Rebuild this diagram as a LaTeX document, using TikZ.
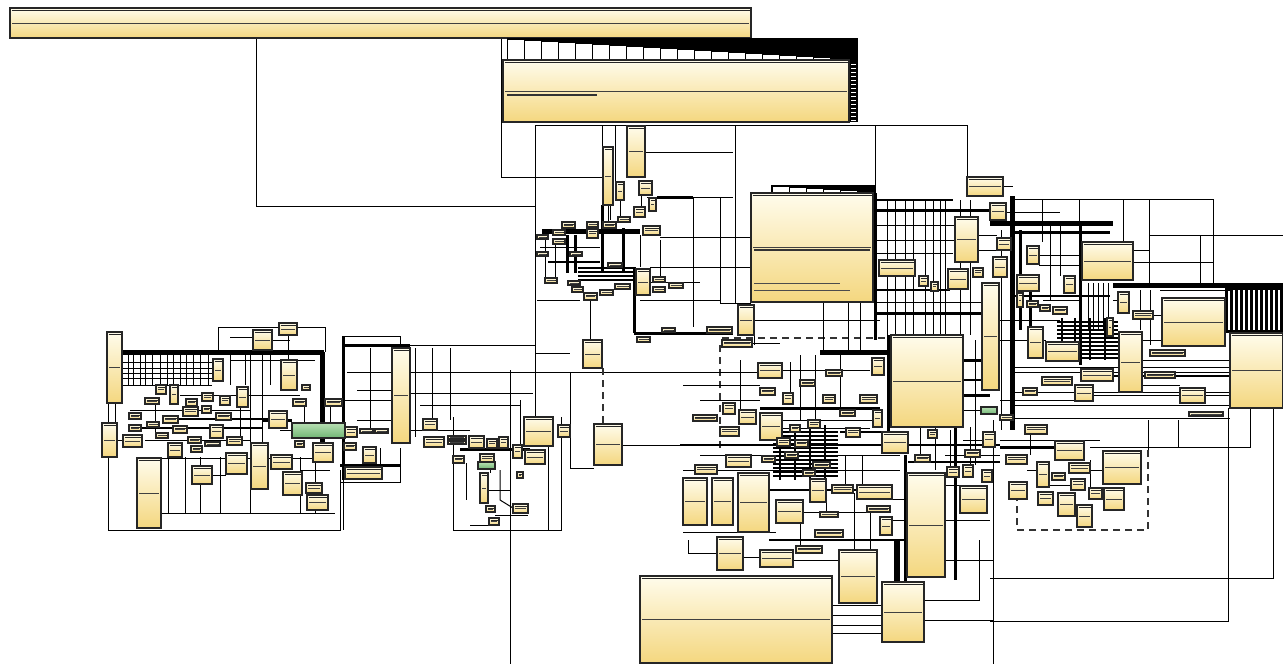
\documentclass[tikz,border=0pt]{standalone}
\usetikzlibrary{backgrounds}
\definecolor{ytop}{HTML}{FFFCEC}
\definecolor{ybot}{HTML}{F4D77F}
\definecolor{gtop}{HTML}{B9E0B4}
\definecolor{gbot}{HTML}{6FB673}
\definecolor{bord}{HTML}{262626}
\tikzset{
  cls/.style={draw=bord,line width=1.4pt,top color=ytop,bottom color=ybot,inner sep=0pt,outer sep=0pt,
    path picture={\draw[line width=.7pt,black!85] ([shift={(1.5pt,-2.8pt)}]path picture bounding box.north west) -- ([shift={(-1.5pt,-2.8pt)}]path picture bounding box.north east);
      \draw[line width=.7pt,black!75] ([xshift=2pt]path picture bounding box.west) -- ([xshift=-2pt]path picture bounding box.east);}},
  gcls/.style={draw=bord,line width=1.2pt,top color=gtop,bottom color=gbot,inner sep=0pt,outer sep=0pt},
  ln/.style={line width=1pt,black},
  bus/.style={line width=3pt,black},
  hbus/.style={line width=5pt,black},
  dsh/.style={line width=1.1pt,black!80,dash pattern=on 7pt off 5pt},
}
\newcommand\B[5]{\node[cls,anchor=north west,minimum width={(#4-#2)*1pt},minimum height={(#5-#3)*1pt}] (#1) at (#2,#3) {};}
\newcommand\Gb[5]{\node[gcls,anchor=north west,minimum width={(#4-#2)*1pt},minimum height={(#5-#3)*1pt}] (#1) at (#2,#3) {};}
\begin{document}
\begin{tikzpicture}[x=1pt,y=-1pt]
\useasboundingbox (0,0) rectangle (1283,664);
% ---------- top ----------
\B{A}{10}{8}{751}{38}
\fill[black] (507,38) rectangle (858,60);
\foreach \i in {0,...,18} {\draw[fill=white,line width=.8pt] ({507+17*\i},{39+\i}) rectangle ({524+17*\i},60);}
\fill[black] (849,60) rectangle (858,122);
\foreach \j in {64,68,...,120} {\draw[white,line width=1pt] (851,\j) -- (856,\j);}
\B{B}{503}{60}{849}{122}
\draw[line width=1.2pt,black!80] (507,95) -- (597,95);
% band above D
\fill[black] (771,185) rectangle (875,193);
\foreach \i in {0,...,5} {\draw[fill=white,line width=.6pt] ({772+17*\i},{186+\i}) rectangle ({789+17*\i},193);}
% ---------- big boxes ----------
\B{D}{751}{193}{873}{302}
\draw[line width=1.2pt,black!80] (754,250) -- (870,250);
\draw[line width=1pt,black!70] (754,283) -- (840,283) (754,290) -- (850,290);
\B{E}{891}{335}{963}{427}
\B{F}{640}{576}{832}{663}
\B{G}{882}{582}{924}{642}
\B{H}{839}{550}{877}{603}
\B{I}{907}{473}{945}{577}
% ---------- center top ----------
\B{c1}{627}{126}{645}{177}
\B{c2}{603}{147}{613}{205}
\B{c3}{616}{182}{624}{200}
\B{c4}{639}{181}{652}{195}
\B{c5}{634}{207}{645}{217}
\B{c6}{649}{198}{656}{211}
\B{c7}{562}{222}{575}{228}
\B{c8}{587}{222}{598}{227}
\B{c9}{603}{222}{616}{228}
\B{c10}{618}{217}{630}{222}
\B{c12}{643}{226}{660}{235}
\B{c13}{587}{229}{598}{238}
\B{c14}{537}{235}{548}{239}
\B{c15}{553}{230}{565}{235}
\B{c16}{553}{239}{565}{244}
\B{c17}{537}{252}{548}{256}
\B{c18}{570}{252}{582}{256}
\B{c19}{636}{269}{650}{295}
\B{c20}{608}{263}{622}{267}
\B{c21}{545}{278}{557}{283}
\B{c22}{572}{287}{583}{292}
\B{c23}{584}{293}{597}{300}
\B{c24}{600}{290}{613}{295}
\B{c25}{615}{284}{630}{289}
\B{c26}{653}{277}{665}{282}
\B{c27}{653}{287}{665}{292}
\B{c28}{669}{283}{683}{288}
\B{c29}{662}{328}{675}{332}
\B{c30}{707}{327}{732}{333}
\B{c31}{637}{337}{650}{342}
\B{c32}{738}{305}{754}{335}
\B{c33}{583}{340}{602}{368}
\B{c34}{568}{281}{580}{285}
% ---------- right ----------
\B{R1}{967}{177}{1003}{196}
\B{R2}{990}{203}{1006}{220}
\B{R3}{997}{238}{1011}{250}
\B{R4}{1027}{246}{1039}{264}
\B{R5}{993}{257}{1007}{277}
\B{R6}{1017}{275}{1039}{291}
\B{R7}{1064}{276}{1075}{293}
\B{R8}{1082}{242}{1133}{280}
\B{R9}{1017}{293}{1023}{307}
\B{R10}{1027}{301}{1038}{307}
\B{R11}{1040}{305}{1050}{311}
\B{R12}{1053}{307}{1067}{314}
\B{R13}{1118}{292}{1129}{313}
\B{R14}{1133}{311}{1153}{319}
\B{R15}{1107}{318}{1113}{336}
\B{R16}{1162}{298}{1225}{346}
\B{R17}{1230}{333}{1283}{408}
\B{R18}{1119}{332}{1142}{392}
\B{R19}{1150}{350}{1185}{356}
\B{R20}{1028}{327}{1043}{358}
\B{R21}{1046}{342}{1079}{361}
\B{R22}{1081}{369}{1113}{381}
\B{R23}{1042}{377}{1072}{385}
\B{R24}{1075}{385}{1093}{401}
\B{R25}{1023}{388}{1037}{395}
\B{R26}{1145}{372}{1175}{378}
\B{R27}{1180}{388}{1205}{403}
\B{R28}{1189}{412}{1223}{416}
\B{R29}{982}{283}{999}{390}
\B{R30}{1025}{425}{1047}{434}
\B{R31}{1000}{415}{1013}{420}
\B{R32}{955}{217}{978}{262}
\B{R33}{948}{269}{968}{289}
\B{R34}{879}{260}{915}{276}
\B{R35}{919}{276}{928}{286}
\B{R36}{931}{282}{938}{291}
\B{R37}{973}{268}{983}{277}
\Gb{g3}{981}{407}{997}{414}
% ---------- lower right ----------
\B{LR1}{1055}{441}{1084}{460}
\B{LR2}{1103}{451}{1141}{484}
\B{LR3}{1104}{488}{1124}{510}
\B{LR4}{1077}{505}{1092}{527}
\B{LR5}{1058}{493}{1075}{516}
\B{LR6}{1038}{492}{1053}{505}
\B{LR7}{1037}{462}{1049}{487}
\B{LR8}{1009}{482}{1027}{499}
\B{LR9}{1006}{455}{1027}{464}
\B{LR10}{1052}{473}{1065}{480}
\B{LR11}{1069}{463}{1090}{473}
\B{LR12}{1071}{479}{1085}{490}
\B{LR13}{1089}{488}{1102}{499}
% ---------- lower center ----------
\B{m1}{872}{358}{884}{375}
\B{m2}{758}{363}{782}{378}
\B{m3}{760}{388}{775}{395}
\B{m4}{783}{393}{793}{404}
\B{m5}{823}{395}{835}{403}
\B{m6}{860}{395}{877}{403}
\B{m7}{873}{410}{882}{427}
\B{m8}{723}{403}{735}{414}
\B{m9}{739}{410}{756}{424}
\B{m10}{760}{413}{782}{440}
\B{m11}{720}{427}{739}{436}
\B{m12}{693}{415}{717}{421}
\B{m13}{882}{432}{908}{453}
\B{m14}{726}{455}{751}{467}
\B{m15}{695}{465}{717}{474}
\B{m16}{683}{478}{707}{525}
\B{m17}{712}{478}{733}{525}
\B{m18}{738}{473}{769}{532}
\B{m19}{776}{500}{803}{523}
\B{m20}{810}{479}{826}{502}
\B{m21}{832}{485}{853}{493}
\B{m22}{857}{485}{892}{499}
\B{m23}{867}{506}{890}{512}
\B{m24}{880}{517}{892}{535}
\B{m25}{960}{486}{987}{513}
\B{m26}{717}{537}{743}{570}
\B{m27}{760}{550}{793}{567}
\B{m28}{796}{546}{822}{553}
\B{m29}{815}{530}{843}{537}
\B{m30}{820}{512}{838}{517}
\B{m31}{722}{340}{752}{347}
\B{m32}{928}{430}{937}{438}
\B{m33}{983}{432}{995}{447}
\B{m34}{982}{470}{992}{482}
\B{m35}{947}{467}{959}{477}
\B{m36}{963}{465}{973}{477}
\B{m37}{790}{425}{800}{432}
\B{m38}{808}{420}{820}{428}
\B{m39}{777}{438}{790}{446}
\B{m40}{795}{440}{808}{447}
\B{m41}{846}{428}{860}{437}
\B{m42}{762}{456}{775}{462}
\B{m43}{813}{462}{830}{468}
\B{m44}{840}{410}{855}{416}
\B{m45}{800}{380}{815}{386}
\B{m46}{826}{370}{842}{376}
\B{m47}{785}{452}{798}{458}
\B{m48}{803}{470}{815}{476}
\B{m49}{915}{455}{930}{462}
\B{m50}{965}{450}{980}{457}
% ---------- middle left ----------
\B{ml1}{392}{348}{410}{443}
\B{ml2}{423}{419}{437}{430}
\B{ml3}{424}{437}{444}{447}
\B{ml4}{345}{427}{357}{437}
\B{ml5}{344}{443}{356}{450}
\B{ml6}{363}{447}{376}{463}
\B{ml7}{345}{467}{382}{479}
\B{ml8}{469}{436}{484}{448}
\B{ml9}{487}{439}{497}{448}
\B{ml10}{499}{437}{508}{448}
\B{ml11}{513}{445}{522}{458}
\B{ml12}{524}{417}{553}{446}
\B{ml13}{525}{450}{545}{464}
\B{ml14}{558}{425}{570}{437}
\B{ml15}{453}{456}{464}{463}
\B{ml16}{480}{454}{494}{462}
\Gb{g2}{478}{462}{495}{469}
\B{ml17}{480}{473}{488}{503}
\B{ml18}{486}{506}{495}{512}
\B{ml19}{489}{518}{499}{525}
\B{ml20}{513}{504}{528}{513}
\B{ml21}{517}{472}{523}{478}
\B{ml22}{594}{424}{622}{465}
\B{ml24}{360}{429}{373}{433}
\B{ml25}{375}{429}{388}{433}
\B{ml26}{448}{436}{466}{439}
\B{ml27}{448}{441}{466}{444}
% ---------- left ----------
\B{l1}{107}{332}{122}{403}
\B{l2}{102}{423}{117}{457}
\B{l3}{137}{458}{161}{528}
\B{l4}{253}{330}{272}{350}
\B{l5}{279}{323}{297}{335}
\B{l6}{281}{360}{297}{390}
\B{l7}{213}{359}{223}{381}
\B{l8}{156}{385}{166}{394}
\B{l9}{170}{385}{178}{404}
\B{l10}{145}{398}{159}{404}
\B{l11}{129}{413}{141}{419}
\B{l12}{129}{425}{141}{431}
\B{l13}{123}{435}{142}{447}
\B{l14}{147}{422}{159}{427}
\B{l15}{163}{416}{178}{423}
\B{l16}{186}{399}{197}{406}
\B{l17}{202}{393}{213}{401}
\B{l18}{220}{396}{230}{405}
\B{l19}{237}{387}{248}{407}
\B{l20}{202}{406}{211}{413}
\B{l21}{216}{413}{231}{420}
\B{l22}{183}{407}{198}{416}
\B{l23}{173}{426}{187}{433}
\B{l24}{156}{433}{168}{438}
\B{l25}{188}{437}{201}{443}
\B{l26}{227}{437}{242}{445}
\B{l27}{210}{425}{223}{438}
\B{l28}{168}{443}{182}{457}
\B{l29}{205}{442}{220}{446}
\B{l30}{191}{446}{202}{452}
\B{l31}{192}{466}{212}{484}
\B{l32}{226}{453}{247}{474}
\B{l33}{251}{443}{268}{489}
\B{l34}{271}{455}{292}{469}
\B{l35}{269}{411}{287}{428}
\B{l36}{283}{472}{302}{495}
\B{l37}{306}{483}{322}{493}
\B{l38}{307}{495}{328}{510}
\B{l39}{313}{443}{333}{462}
\B{l40}{293}{399}{306}{406}
\B{l41}{302}{385}{310}{390}
\B{l42}{325}{399}{342}{406}
\B{l43}{295}{441}{304}{447}
\Gb{g1}{292}{423}{345}{438}
% =================== connectors (background) ===================
\begin{pgfonlayer}{background}
% from top boxes
\draw[ln] (A.south -| 256,0) |- (535,206);
\draw[ln] (A.south -| 501,0) |- (602,177);
\draw[ln] (535,125) -- (967,125);
\draw[ln] (535,125) -- (535,417);
\draw[ln] (735,125) -- (735,303);
\draw[ln] (875,125) -- (875,193);
\draw[ln] (967,125) -- (967,177);
\draw[ln] (645,152) -- (733,152);
\draw[ln] (647,197) -- (733,197);
\draw[bus] (657,197) -- (693,197);
\draw[ln] (693,197) -- (693,327);
\draw[ln] (720,197) -- (720,303) -- (751,303);
\draw[ln] (660,237) -- (751,237);
\draw[ln] (650,267) -- (751,267);
\draw[ln] (602,126) -- (602,147);
\draw[ln] (615,126) -- (615,182);
\draw[ln] (608,205) -- (608,222);
\draw[ln] (641,195) -- (641,207);
\draw[ln] (620,200) -- (620,218);
% centre-top cluster
\draw[hbus] (542,231) -- (640,231);
\draw[bus] (602,205) -- (602,273);
\draw[bus] (623,228) -- (623,273);
\draw[bus] (567,235) -- (567,273);
\draw[bus] (575,235) -- (575,273);
\foreach \y in {268,272,276,280} {\draw[line width=2.5pt] (578,\y) -- (634,\y);}
\draw[ln] (545,240) -- (545,278);
\draw[ln] (555,244) -- (555,278);
\draw[ln] (640,235) -- (640,267);
\draw[ln] (540,247) -- (600,247);
\draw[ln] (650,282) -- (700,282);
\draw[bus] (634,267) -- (634,333);
\draw[bus] (634,333) -- (733,333);
\draw[ln] (640,300) -- (720,300);
\draw[ln] (660,240) -- (660,277);
\draw[ln] (590,300) -- (590,340);
\draw[ln] (537,300) -- (580,300);
\draw[line width=2pt] (548,262) -- (600,262);
\draw[ln] (610,205) -- (610,220);
% middle-left
\draw[ln] (343,336) -- (400,336) -- (400,348);
\draw[bus] (345,345) -- (410,345);
\draw[ln] (410,345) -- (535,345);
\draw[ln] (347,372) -- (715,372);
\draw[ln] (510,370) -- (510,664);
\draw[ln] (408,393) -- (533,393);
\draw[ln] (415,348) -- (415,437);
\draw[ln] (432,348) -- (432,419);
\draw[ln] (450,348) -- (450,420);
\draw[bus] (343,336) -- (343,480);
\draw[ln] (343,480) -- (343,530);
\draw[bus] (340,465) -- (400,465);
\draw[ln] (340,482) -- (400,482) -- (400,448);
\draw[ln] (453,417) -- (453,530) -- (561,530) -- (561,417);
\draw[ln] (535,353) -- (570,353);
\draw[ln] (570,372) -- (570,468) -- (594,468);
\draw[dsh] (603,368) -- (603,424);
\draw[ln] (622,445) -- (680,445);
\draw[ln] (420,405) -- (520,405);
\draw[ln] (380,448) -- (380,467);
\draw[ln] (410,430) -- (470,430);
\draw[ln] (520,400) -- (520,445);
\draw[ln] (548,446) -- (548,530);
\draw[bus] (460,449) -- (530,449);
\draw[ln] (490,469) -- (490,473);
\draw[ln] (484,490) -- (510,490);
\draw[ln] (470,525) -- (489,525);
\draw[ln] (466,463) -- (466,500);
\draw[ln] (500,470) -- (500,500) -- (513,508);
\draw[ln] (495,515) -- (528,515);
\draw[ln] (357,420) -- (392,420);
\draw[ln] (357,390) -- (392,390);
\draw[ln] (370,348) -- (370,429);
% left cluster
\draw[hbus] (123,352) -- (324,352);
\draw[hbus] (322,352) -- (322,450);
\draw[ln] (108,403) -- (108,530) -- (340,530) -- (340,470);
\draw[ln] (162,513) -- (335,513);
\foreach \x in {128,133,140,145,152,160,167,173,180,186,193,200,208,230,245,262,270} {\draw[ln] (\x,352) -- (\x,385);}
\foreach \y in {362,368,373,378,385} {\draw[ln] (123,\y) -- (212,\y);}
\draw[ln] (218,352) |- (325,327) -- (325,352);
\draw[ln] (230,337) -- (253,337);
\draw[ln] (272,340) -- (290,340);
\draw[ln] (288,335) -- (288,360);
\draw[ln] (250,352) -- (250,443);
\draw[ln] (262,352) -- (262,443);
\draw[ln] (230,360) -- (315,360);
\draw[ln] (180,395) -- (300,395);
\draw[ln] (130,410) -- (250,410);
\draw[ln] (145,440) -- (250,440);
\draw[ln] (160,458) -- (320,458);
\foreach \x in {168,185,200,220,250,300,315} {\draw[ln] (\x,457) -- (\x,513);}
\draw[ln] (117,440) -- (123,440);
\draw[ln] (115,403) -- (115,423);
\draw[bus] (262,420) -- (292,420);
\draw[ln] (304,406) -- (304,423);
\draw[ln] (330,406) -- (330,423);
\draw[ln] (292,430) -- (280,430);
\draw[ln] (340,400) -- (392,400);
\draw[line width=2pt] (142,428) -- (262,428);
\draw[line width=2pt] (178,419) -- (270,419);
\draw[ln] (155,404) -- (155,433);
\draw[ln] (240,407) -- (240,437);
\draw[ln] (300,470) -- (330,470);
\draw[ln] (212,475) -- (226,475);
% centre-lower
\draw[dsh] (722,338) -- (888,338);
\draw[dsh] (720,345) -- (720,452);
\draw[bus] (888,335) -- (888,445);
\draw[hbus] (820,352) -- (890,352);
\draw[bus] (875,193) -- (875,340);
\draw[line width=2pt] (877,200) -- (953,200);
\draw[bus] (873,210) -- (1000,210);
\draw[ln] (877,253) -- (953,253);
\draw[ln] (873,302) -- (1000,302);
\draw[bus] (877,313) -- (1000,313);
\foreach \x in {887,895,905,913,925,933,940,945,960,970} {\draw[ln] (\x,200) -- (\x,335);}
\draw[ln] (877,225) -- (955,225);
\draw[line width=2pt] (877,290) -- (950,290);
\draw[ln] (877,240) -- (955,240);
\draw[ln] (823,302) -- (823,352);
\draw[ln] (848,302) -- (848,352);
\draw[ln] (860,302) -- (860,352);
\draw[ln] (753,320) -- (880,320);
\draw[line width=2pt] (680,445) -- (1000,445);
\foreach \y in {432,436,...,478} {\draw[line width=2.4pt] (773,\y) -- (838,\y);}
\foreach \x in {780,795,810,825} {\draw[line width=2pt] (\x,425) -- (\x,480);}
\draw[bus] (905,455) -- (905,583);
\draw[line width=6pt] (897,540) -- (897,582);
\draw[ln] (752,343) -- (780,343);
\draw[ln] (754,325) -- (754,345);
\draw[ln] (690,372) -- (760,372);
\draw[ln] (683,385) -- (760,385);
\draw[ln] (700,400) -- (760,400);
\draw[ln] (740,360) -- (740,410);
\draw[ln] (782,370) -- (870,370);
\draw[ln] (790,362) -- (790,393);
\draw[ln] (800,355) -- (800,420);
\draw[ln] (815,355) -- (815,420);
\draw[ln] (840,355) -- (840,410);
\draw[bus] (760,408) -- (880,408);
\draw[ln] (782,420) -- (880,420);
\draw[ln] (782,428) -- (870,428);
\draw[ln] (700,455) -- (900,455);
\draw[ln] (683,470) -- (900,470);
\draw[line width=2pt] (769,490) -- (860,490);
\draw[ln] (803,512) -- (880,512);
\draw[ln] (683,532) -- (776,532);
\draw[line width=2pt] (769,540) -- (905,540);
\draw[ln] (688,540) -- (688,553) -- (717,553);
\draw[ln] (743,557) -- (760,557);
\draw[ln] (793,560) -- (839,560);
\draw[ln] (800,523) -- (800,546);
\draw[ln] (826,502) -- (826,512);
\draw[ln] (854,493) -- (854,550);
\draw[ln] (870,512) -- (870,550);
\draw[ln] (845,455) -- (845,485);
\draw[ln] (862,455) -- (862,485);
\draw[bus] (963,360) -- (990,360);
\draw[bus] (963,395) -- (990,395);
\draw[line width=2pt] (963,380) -- (990,380);
\draw[ln] (963,410) -- (981,410);
\draw[ln] (945,485) -- (960,485);
\draw[ln] (945,520) -- (990,520);
\draw[ln] (950,430) -- (950,467);
\draw[ln] (963,440) -- (990,440);
\draw[bus] (955,427) -- (955,580);
\draw[ln] (970,427) -- (970,465);
\draw[ln] (945,455) -- (1000,455);
\draw[line width=2pt] (840,432) -- (882,432);
\draw[line width=2pt] (908,462) -- (1000,462);
\draw[ln] (975,340) -- (975,465);
\draw[ln] (920,427) -- (920,455);
\draw[ln] (935,427) -- (935,470);
\draw[ln] (892,499) -- (907,499);
\draw[ln] (892,520) -- (907,520);
% bottom
\foreach \y in {605,615,625,633} {\draw[ln] (832,\y) -- (882,\y);}
\draw[ln] (924,600) -- (979,600) -- (979,540);
\draw[ln] (924,620) -- (993,620);
\draw[ln] (945,560) -- (993,560);
\draw[ln] (993,420) -- (993,664);
\draw[ln] (990,578) -- (1273,578) -- (1273,408);
\draw[ln] (990,621) -- (1228,621) -- (1228,408);
\draw[ln] (1090,447) -- (1250,447) -- (1250,408);
\draw[ln] (1178,420) -- (1178,447);
\draw[ln] (1148,420) -- (1148,450);
\draw[dsh] (1148,450) -- (1148,530) -- (1017,530) -- (1017,480);
\draw[ln] (1000,440) -- (1100,440);
\draw[bus] (1000,447) -- (1055,447);
\draw[ln] (1027,470) -- (1037,470);
\draw[ln] (1049,485) -- (1070,485);
\draw[ln] (1085,470) -- (1103,470);
\draw[ln] (1030,430) -- (1030,455);
\draw[ln] (1090,460) -- (1090,488);
% right region
\draw[ln] (1013,199) -- (1213,199) -- (1213,285);
\foreach \x in {1042,1079,1123} {\draw[ln] (\x,199) -- (\x,242);}
\draw[ln] (1149,199) -- (1149,285);
\draw[ln] (1150,235) -- (1283,235);
\draw[ln] (1200,235) -- (1200,285);
\draw[hbus] (1113,285) -- (1283,285);
\fill[black] (1225,285) rectangle (1283,333);
\foreach \x in {1229,1234,...,1281} {\draw[white,line width=1.5pt] (\x,290) -- (\x,330);}
\draw[hbus] (990,223) -- (1113,223);
\draw[hbus] (1012,196) -- (1012,430);
\draw[bus] (1080,223) -- (1080,365);
\foreach \y in {322,326,...,358} {\draw[line width=2.4pt] (1057,\y) -- (1118,\y);}
\foreach \x in {1062,1075,1090,1105} {\draw[line width=2pt] (\x,318) -- (\x,360);}
\foreach \y in {367,372,392,405,418} {\draw[ln] (1013,\y) -- (1230,\y);}
\foreach \x in {1088,1093,1098,1103,1108} {\draw[ln] (\x,283) -- (\x,330);}
\draw[ln] (1140,290) -- (1140,330);
\draw[ln] (1150,290) -- (1150,345);
\draw[ln] (1160,290) -- (1230,290);
\draw[ln] (1142,360) -- (1230,360);
\draw[ln] (1142,385) -- (1180,385);
\draw[ln] (1001,230) -- (1001,430);
\draw[bus] (1020,230) -- (1020,330);
\draw[ln] (1006,212) -- (1060,212);
\draw[ln] (1039,255) -- (1080,255);
\draw[ln] (1039,265) -- (1082,265);
\draw[ln] (1043,300) -- (1080,300);
\draw[ln] (1000,320) -- (1060,320);
\draw[ln] (1000,340) -- (1046,340);
\draw[ln] (1000,400) -- (1080,400);
\draw[ln] (978,235) -- (997,235);
\draw[ln] (978,250) -- (997,250);
\draw[ln] (1003,186) -- (1013,186);
\draw[bus] (1013,232) -- (1110,232);
\draw[line width=2pt] (1013,296) -- (1110,296);
\draw[ln] (1050,223) -- (1050,300);
\draw[ln] (1060,223) -- (1060,276);
\draw[bus] (1030,291) -- (1030,327);
\draw[ln] (1133,262) -- (1213,262);
\draw[ln] (1133,250) -- (1149,250);
\draw[ln] (1113,300) -- (1118,300);
\draw[ln] (1153,315) -- (1162,315);
\draw[ln] (1142,340) -- (1162,340);
\draw[line width=2pt] (1113,376) -- (1230,376);
\draw[ln] (1093,395) -- (1180,395);
\draw[ln] (1205,395) -- (1230,395);
\end{pgfonlayer}
\end{tikzpicture}
\end{document}
